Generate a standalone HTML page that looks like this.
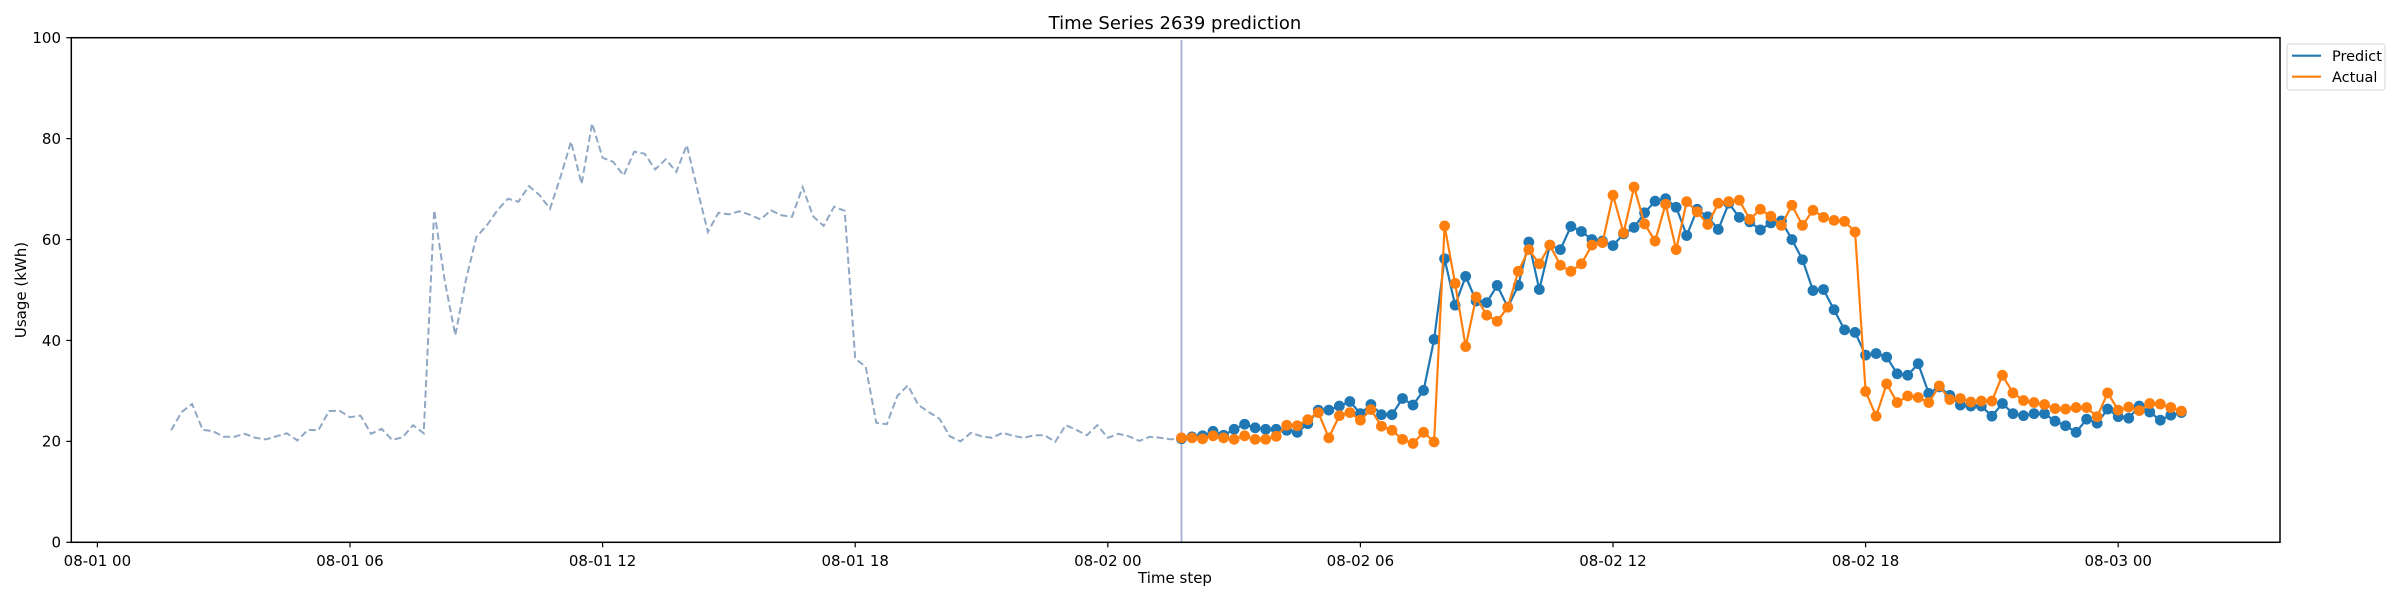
<!DOCTYPE html>
<html><head><meta charset="utf-8"><title>Time Series 2639 prediction</title>
<style>
html,body{margin:0;padding:0;background:#fff;}
svg{display:block;font-family:"DejaVu Sans","Liberation Sans",sans-serif;}
</style></head>
<body>
<svg id="chart" width="2400" height="600" viewBox="0 0 2400 600" xmlns="http://www.w3.org/2000/svg">
  <rect x="0" y="0" width="2400" height="600" fill="#fff"/>
  <text x="1175" y="29" font-size="18" text-anchor="middle" fill="#000">Time Series 2639 prediction</text>
  <text x="1175" y="583" font-size="15" text-anchor="middle" fill="#000">Time step</text>
  <text x="0" y="0" font-size="15" text-anchor="middle" fill="#000" transform="translate(26,290) rotate(-90)">Usage (kWh)</text>
  <g id="grid"></g>
  <g id="series"></g>
  <rect x="71.3" y="37.7" width="2208.7" height="504.6" fill="none" stroke="#000" stroke-width="1.5"/>
  <g>
    <rect x="2287" y="44" width="98" height="46" rx="3" fill="#fff" stroke="#d6d6d6" stroke-width="1"/>
    <line x1="2292" y1="55.7" x2="2321" y2="55.7" stroke="#1f77b4" stroke-width="2.2"/>
    <text x="2332" y="61" font-size="14.5" fill="#000">Predict</text>
    <line x1="2292" y1="76.7" x2="2321" y2="76.7" stroke="#ff7f0e" stroke-width="2.2"/>
    <text x="2332" y="82" font-size="14.5" fill="#000">Actual</text>
  </g>
</svg>
<script>
// data (hours since 08-01 00:00, 15-min steps)
const historyStart = 1.75;
const forecastStart = 25.75;
const stepHours = 0.25;
const historyValues = [22.2,25.8,27.4,22.3,22.0,20.9,20.9,21.5,20.7,20.4,21.0,21.6,20.2,22.3,22.2,26.0,26.1,24.8,25.1,21.5,22.5,20.3,20.8,23.2,21.6,65.8,51.9,41.0,51.9,60.5,62.8,65.8,68.1,67.5,70.6,68.8,66.1,72.4,79.4,71.0,83.0,76.2,75.4,72.7,77.4,
77.0,73.9,75.9,73.4,78.7,70.0,61.5,65.3,65.0,65.6,64.9,64.0,65.8,64.8,64.5,70.4,64.6,62.7,66.5,65.7,36.4,34.8,23.7,23.4,29.0,31.1,27.2,25.8,24.5,21.0,20.0,21.7,21.0,20.7,21.7,21.1,20.7,21.2,21.2,19.9,23.2,22.3,21.2,23.2,20.7,21.5,21.0,20.1,20.9,20.7,20.4];
const predictValues = [20.5,20.9,21.1,22.0,21.2,22.4,23.4,22.7,22.4,22.4,22.2,21.8,23.5,26.2,26.2,27.0,27.9,25.5,27.3,25.3,25.3,28.5,27.2,30.1,40.2,56.2,47.0,52.7,47.8,47.5,50.9,46.6,
50.9,59.5,50.1,58.9,58.0,62.6,61.6,60.0,59.7,58.8,61.1,62.4,65.3,67.6,68.1,66.4,60.8,66.0,64.5,62.0,67.2,64.4,63.5,61.9,63.3,63.7,60.0,56.0,49.9,50.1,46.1,42.1,
41.6,37.1,37.4,36.7,33.4,33.1,35.4,29.5,30.8,29.1,27.2,27.0,27.0,25.0,27.5,25.5,25.1,25.5,25.5,24.0,23.1,21.8,24.4,23.6,26.4,24.9,24.6,27.0,25.8,24.2,25.2,25.7];
const actualValues = [20.7,20.7,20.5,21.1,20.7,20.4,21.1,20.4,20.4,21.0,23.2,23.1,24.3,25.7,20.7,25.1,25.7,24.2,26.3,23.0,22.2,20.4,19.6,21.8,19.9,62.7,51.3,38.8,48.6,45.0,43.8,46.6,
53.7,58.0,55.2,58.9,54.9,53.7,55.2,58.9,59.4,68.8,61.3,70.4,63.1,59.7,67.0,58.0,67.5,65.5,63.0,67.2,67.5,67.8,64.0,66.0,64.6,62.8,66.8,62.8,65.8,64.4,63.8,63.6,
61.5,29.9,25.0,31.4,27.7,29.0,28.7,27.7,31.0,28.3,28.5,27.8,28.0,28.0,33.1,29.6,28.1,27.7,27.3,26.5,26.4,26.7,26.7,24.9,29.6,26.2,26.8,26.1,27.5,27.4,26.7,26.0];
const xTickHours = [0,6,12,18,24,30,36,42,48];
const xTickLabels = ["08-01 00","08-01 06","08-01 12","08-01 18","08-02 00","08-02 06","08-02 12","08-02 18","08-03 00"];
const yTickValues = [0,20,40,60,80,100];

const NS = "http://www.w3.org/2000/svg";
const X0 = 97.4, PXH = 42.1, YB = 542.3, PXV = 5.046;
function xScale(h){ return X0 + h*PXH; }
function yScale(v){ return YB - v*PXV; }
function mk(tag, attrs, parent){
  const e = document.createElementNS(NS, tag);
  for (const k in attrs) e.setAttribute(k, attrs[k]);
  parent.appendChild(e); return e;
}
const grid = document.getElementById('grid');
const series = document.getElementById('series');

yTickValues.forEach(v => {
  const y = yScale(v);
  const t = mk('line', {x1:66.3, x2:71.3, y1:y, y2:y, stroke:'#000', 'stroke-width':1.2}, grid);
  
  
  const l = mk('text', {x:61, y:y+5.3, 'font-size':15, 'text-anchor':'end', fill:'#000'}, grid);
  
  
  l.textContent = String(v);
});
xTickHours.forEach((h, i) => {
  const x = xScale(h);
  const t = mk('line', {x1:x, x2:x, y1:542.3, y2:547.3, stroke:'#000', 'stroke-width':1.2}, grid);
  
  
  const l = mk('text', {x:x, y:566, 'font-size':15, 'text-anchor':'middle', fill:'#000'}, grid);
  
  
  l.textContent = xTickLabels[i];
});

// history dashed line
let hp = historyValues.map((v,i) => xScale(historyStart + i*stepHours).toFixed(1) + ',' + yScale(v).toFixed(1));
hp.push(xScale(forecastStart).toFixed(1) + ',' + yScale(actualValues[0]).toFixed(1));
const hl = mk('polyline', {points: hp.join(' '), fill:'none', stroke:'#91a8c5', 'stroke-width':2, 'stroke-dasharray':'7,3.5'}, series);



// forecast start line
const vx = xScale(forecastStart);
const vl = mk('line', {x1:vx, x2:vx, y1:40, y2:542, stroke:'#a3b1d3', 'stroke-width':1.8}, series);



function drawSeries(vals, color, name){
  const g = mk('g', {}, series);
  
  
  const pts = vals.map((v,i) => xScale(forecastStart + i*stepHours).toFixed(1) + ',' + yScale(v).toFixed(1)).join(' ');
  const pl = mk('polyline', {points: pts, fill:'none', stroke: color, 'stroke-width':2.2}, g);
  
  
  vals.forEach((v,i) => {
    const c = mk('circle', {cx: xScale(forecastStart + i*stepHours), cy: yScale(v), r:5.4, fill: color}, g);
    
    
  });
}
drawSeries(predictValues, '#1f77b4', 'predict');
drawSeries(actualValues, '#ff7f0e', 'actual');
</script>
</body></html>
